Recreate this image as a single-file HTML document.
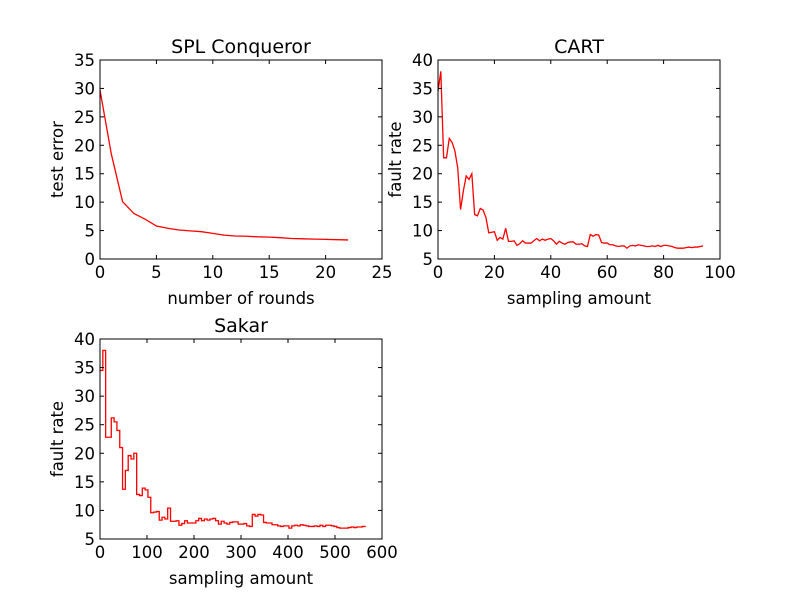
<!DOCTYPE html>
<html><head><meta charset="utf-8"><style>
body{margin:0;background:#fff;}
svg{display:block;font-family:"DejaVu Sans","Liberation Sans",sans-serif;}
</style></head><body>
<svg id="fig" width="800" height="600" viewBox="0 0 800 600"></svg>
<script>
const splX=[0,1,2,3,4,5,6,7,8,9,10,11,12,13,14,15,16,17,18,19,20,21,22];
const splY=[29.7,18.5,10.1,8.0,7.0,5.8,5.4,5.1,4.95,4.8,4.5,4.2,4.05,4.0,3.9,3.85,3.75,3.6,3.55,3.5,3.45,3.4,3.35];
const cartY=[34.5,38,22.8,22.8,26.2,25.5,24,21,13.7,17,19.6,19,20,12.8,12.6,13.9,13.6,12.3,9.6,9.7,9.8,8.3,8.8,8.5,10.4,8.1,8.1,8.2,7.4,7.7,8.2,7.8,7.8,7.8,8.2,8.6,8.2,8.5,8.3,8.5,8.6,8.2,7.6,8.1,7.8,7.6,7.9,8.0,8.0,7.6,7.6,7.7,7.3,7.2,9.3,9.0,9.3,9.2,7.9,7.8,7.8,7.5,7.5,7.3,7.2,7.3,7.3,6.9,7.3,7.4,7.3,7.5,7.4,7.3,7.2,7.2,7.3,7.2,7.4,7.2,7.4,7.4,7.3,7.2,7.0,6.9,6.9,6.9,7.0,7.1,7.0,7.1,7.1,7.2,7.3];
const cartX=cartY.map((v,i)=>i);
const sakarX=cartY.map((v,i)=>i*6);
const sakarY=cartY;
const splXTicks=[0,5,10,15,20,25], splYTicks=[0,5,10,15,20,25,30,35];
const cartXTicks=[0,20,40,60,80,100], cartYTicks=[5,10,15,20,25,30,35,40];
const sakarXTicks=[0,100,200,300,400,500,600], sakarYTicks=[5,10,15,20,25,30,35,40];

const NS="http://www.w3.org/2000/svg", svg=document.getElementById('fig');
function el(t,a,p){const e=document.createElementNS(NS,t);for(const k in a)e.setAttribute(k,a[k]);(p||svg).appendChild(e);return e;}
function panel(o){
  const g=el('g',{});
  
  
  const sx=v=>o.x0+(v-o.xmin)/(o.xmax-o.xmin)*(o.x1-o.x0);
  const sy=v=>o.y1-(v-o.ymin)/(o.ymax-o.ymin)*(o.y1-o.y0);
  let d='';
  if(o.step){o.xs.forEach((x,i)=>{const px=sx(x),py=sy(o.ys[i]);if(i==0)d+='M'+px+' '+py;else d+=' L'+px+' '+sy(o.ys[i-1])+' L'+px+' '+py;});}
  else d=o.xs.map((x,i)=>(i?'L':'M')+sx(x)+' '+sy(o.ys[i])).join(' ');
  const line=el('path',{d:d,fill:'none',stroke:'#ff0000','stroke-width':1.3},g);
  
  
  const fr=el('rect',{x:o.x0,y:o.y0,width:o.x1-o.x0,height:o.y1-o.y0,fill:'none',stroke:'#000','stroke-width':1},g);
  
  
  o.xt.forEach(v=>{const x=sx(v);
    el('line',{x1:x,x2:x,y1:o.y1,y2:o.y1-4,stroke:'#000'},g);el('line',{x1:x,x2:x,y1:o.y0,y2:o.y0+4,stroke:'#000'},g);
    const t=el('text',{x:x,y:o.y1+19,'text-anchor':'middle','font-size':16.5},g);t.textContent=v;
    
    });
  o.yt.forEach(v=>{const y=sy(v);
    el('line',{x1:o.x0,x2:o.x0+4,y1:y,y2:y,stroke:'#000'},g);el('line',{x1:o.x1,x2:o.x1-4,y1:y,y2:y,stroke:'#000'},g);
    const t=el('text',{x:o.x0-5,y:y+6,'text-anchor':'end','font-size':16.5},g);t.textContent=v;
    
    });
  const ti=el('text',{x:(o.x0+o.x1)/2,y:o.y0-7,'text-anchor':'middle','font-size':19},g);ti.textContent=o.title;
  
  
  const xl=el('text',{x:(o.x0+o.x1)/2,y:o.y1+45,'text-anchor':'middle','font-size':16.5},g);xl.textContent=o.xl;
  
  
  const yc=(o.y0+o.y1)/2, yx=o.x0-37;
  const yl=el('text',{x:yx,y:yc,'text-anchor':'middle','font-size':16.5,transform:'rotate(-90 '+yx+' '+yc+')'},g);yl.textContent=o.yl;
  
  
}
panel({name:'spl-conqueror',x0:100,x1:382,y0:60,y1:259,xmin:0,xmax:25,ymin:0,ymax:35,xs:splX,ys:splY,xt:splXTicks,yt:splYTicks,title:'SPL Conqueror',xl:'number of rounds',yl:'test error'});
panel({name:'cart',x0:438,x1:720,y0:60,y1:259,xmin:0,xmax:100,ymin:5,ymax:40,xs:cartX,ys:cartY,xt:cartXTicks,yt:cartYTicks,title:'CART',xl:'sampling amount',yl:'fault rate'});
panel({name:'sakar',x0:100,x1:382,y0:339,y1:539,xmin:0,xmax:600,ymin:5,ymax:40,xs:sakarX,ys:sakarY,xt:sakarXTicks,yt:sakarYTicks,title:'Sakar',xl:'sampling amount',yl:'fault rate',step:true});
</script>
</body></html>
